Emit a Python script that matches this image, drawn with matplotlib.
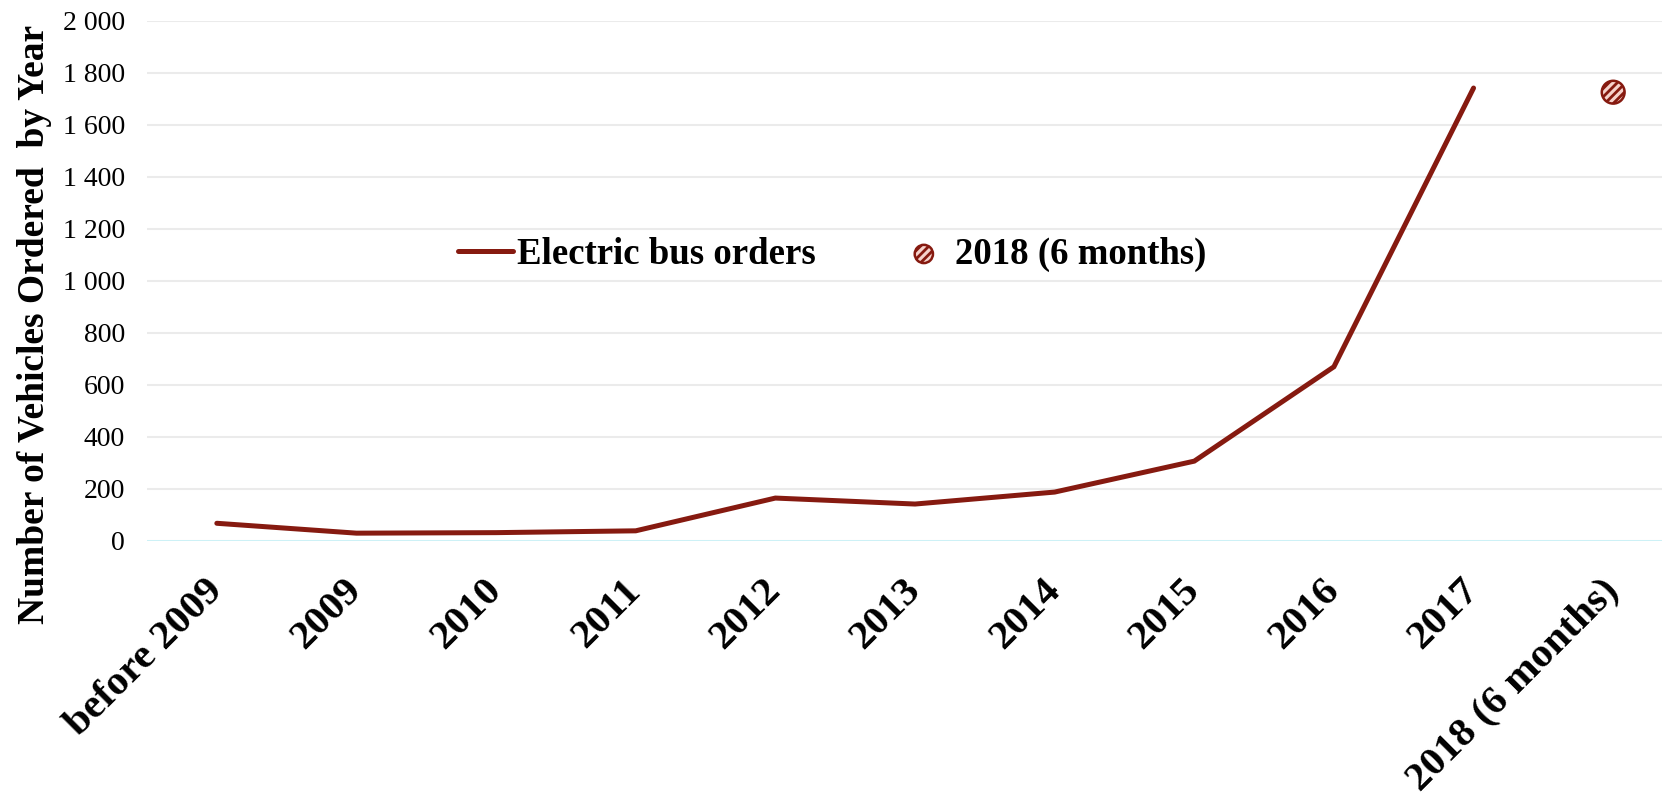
import matplotlib.pyplot as plt
import numpy as np

plt.rcParams['font.family'] = ['Liberation Serif', 'DejaVu Serif']
plt.rcParams['hatch.linewidth'] = 2.0

categories = ["before 2009", "2009", "2010", "2011", "2012", "2013",
              "2014", "2015", "2016", "2017", "2018 (6 months)"]
orders = [67, 29, 31, 38, 164, 141, 187, 306, 669, 1741]
orders_2018 = 1725

line_color = '#861a10'
stripe_color = '#f6d2cb'

fig = plt.figure(figsize=(16.62, 8), dpi=100)
ax = fig.add_axes([147/1662, 1 - 540.7/800, 1536/1662, 520/800])

x = np.arange(len(categories))
ax.plot(x[:len(orders)], orders, color=line_color, lw=3.6,
        solid_capstyle='round', solid_joinstyle='miter',
        label='Electric bus orders', zorder=3)
ax.scatter([x[-1]], [orders_2018], s=270, facecolor=stripe_color,
           edgecolor=line_color, hatch='////', linewidths=1.8,
           label='2018 (6 months)', zorder=4)

ax.set_xlim(-0.5, len(categories) - 0.5)
ax.set_ylim(0, 2000)
ax.set_yticks(np.arange(0, 2001, 200))
ax.set_yticklabels([f"{v:,}".replace(",", " ") for v in range(0, 2001, 200)])
ax.yaxis.grid(True, color='#ebebeb', lw=1.5)
ax.set_axisbelow(True)
ax.axhline(0, color='#c4f4fa', lw=1.8, zorder=2)
for s in ax.spines.values():
    s.set_visible(False)

ax.set_xticks(x)
ax.set_xticklabels(categories, rotation=45, ha='right', va='center',
                   rotation_mode='anchor', fontsize=29.8, fontweight='bold')
ax.tick_params(axis='x', length=0, pad=32)
ax.tick_params(axis='y', length=0, pad=16, labelsize=20)

fig.text(35/1662, 1 - 324/800, "Number of Vehicles Ordered  by Year", rotation=90,
         ha='center', va='center', fontsize=27, fontweight='bold')

ax.legend(loc='center', bbox_to_anchor=(0.446, 0.551), ncol=2, frameon=False,
          prop={'size': 26.5, 'weight': 'bold'}, handlelength=1.5, handletextpad=0.1,
          columnspacing=2.2, scatterpoints=1, markerscale=0.8)

fig.savefig('out.png', dpi=100)
